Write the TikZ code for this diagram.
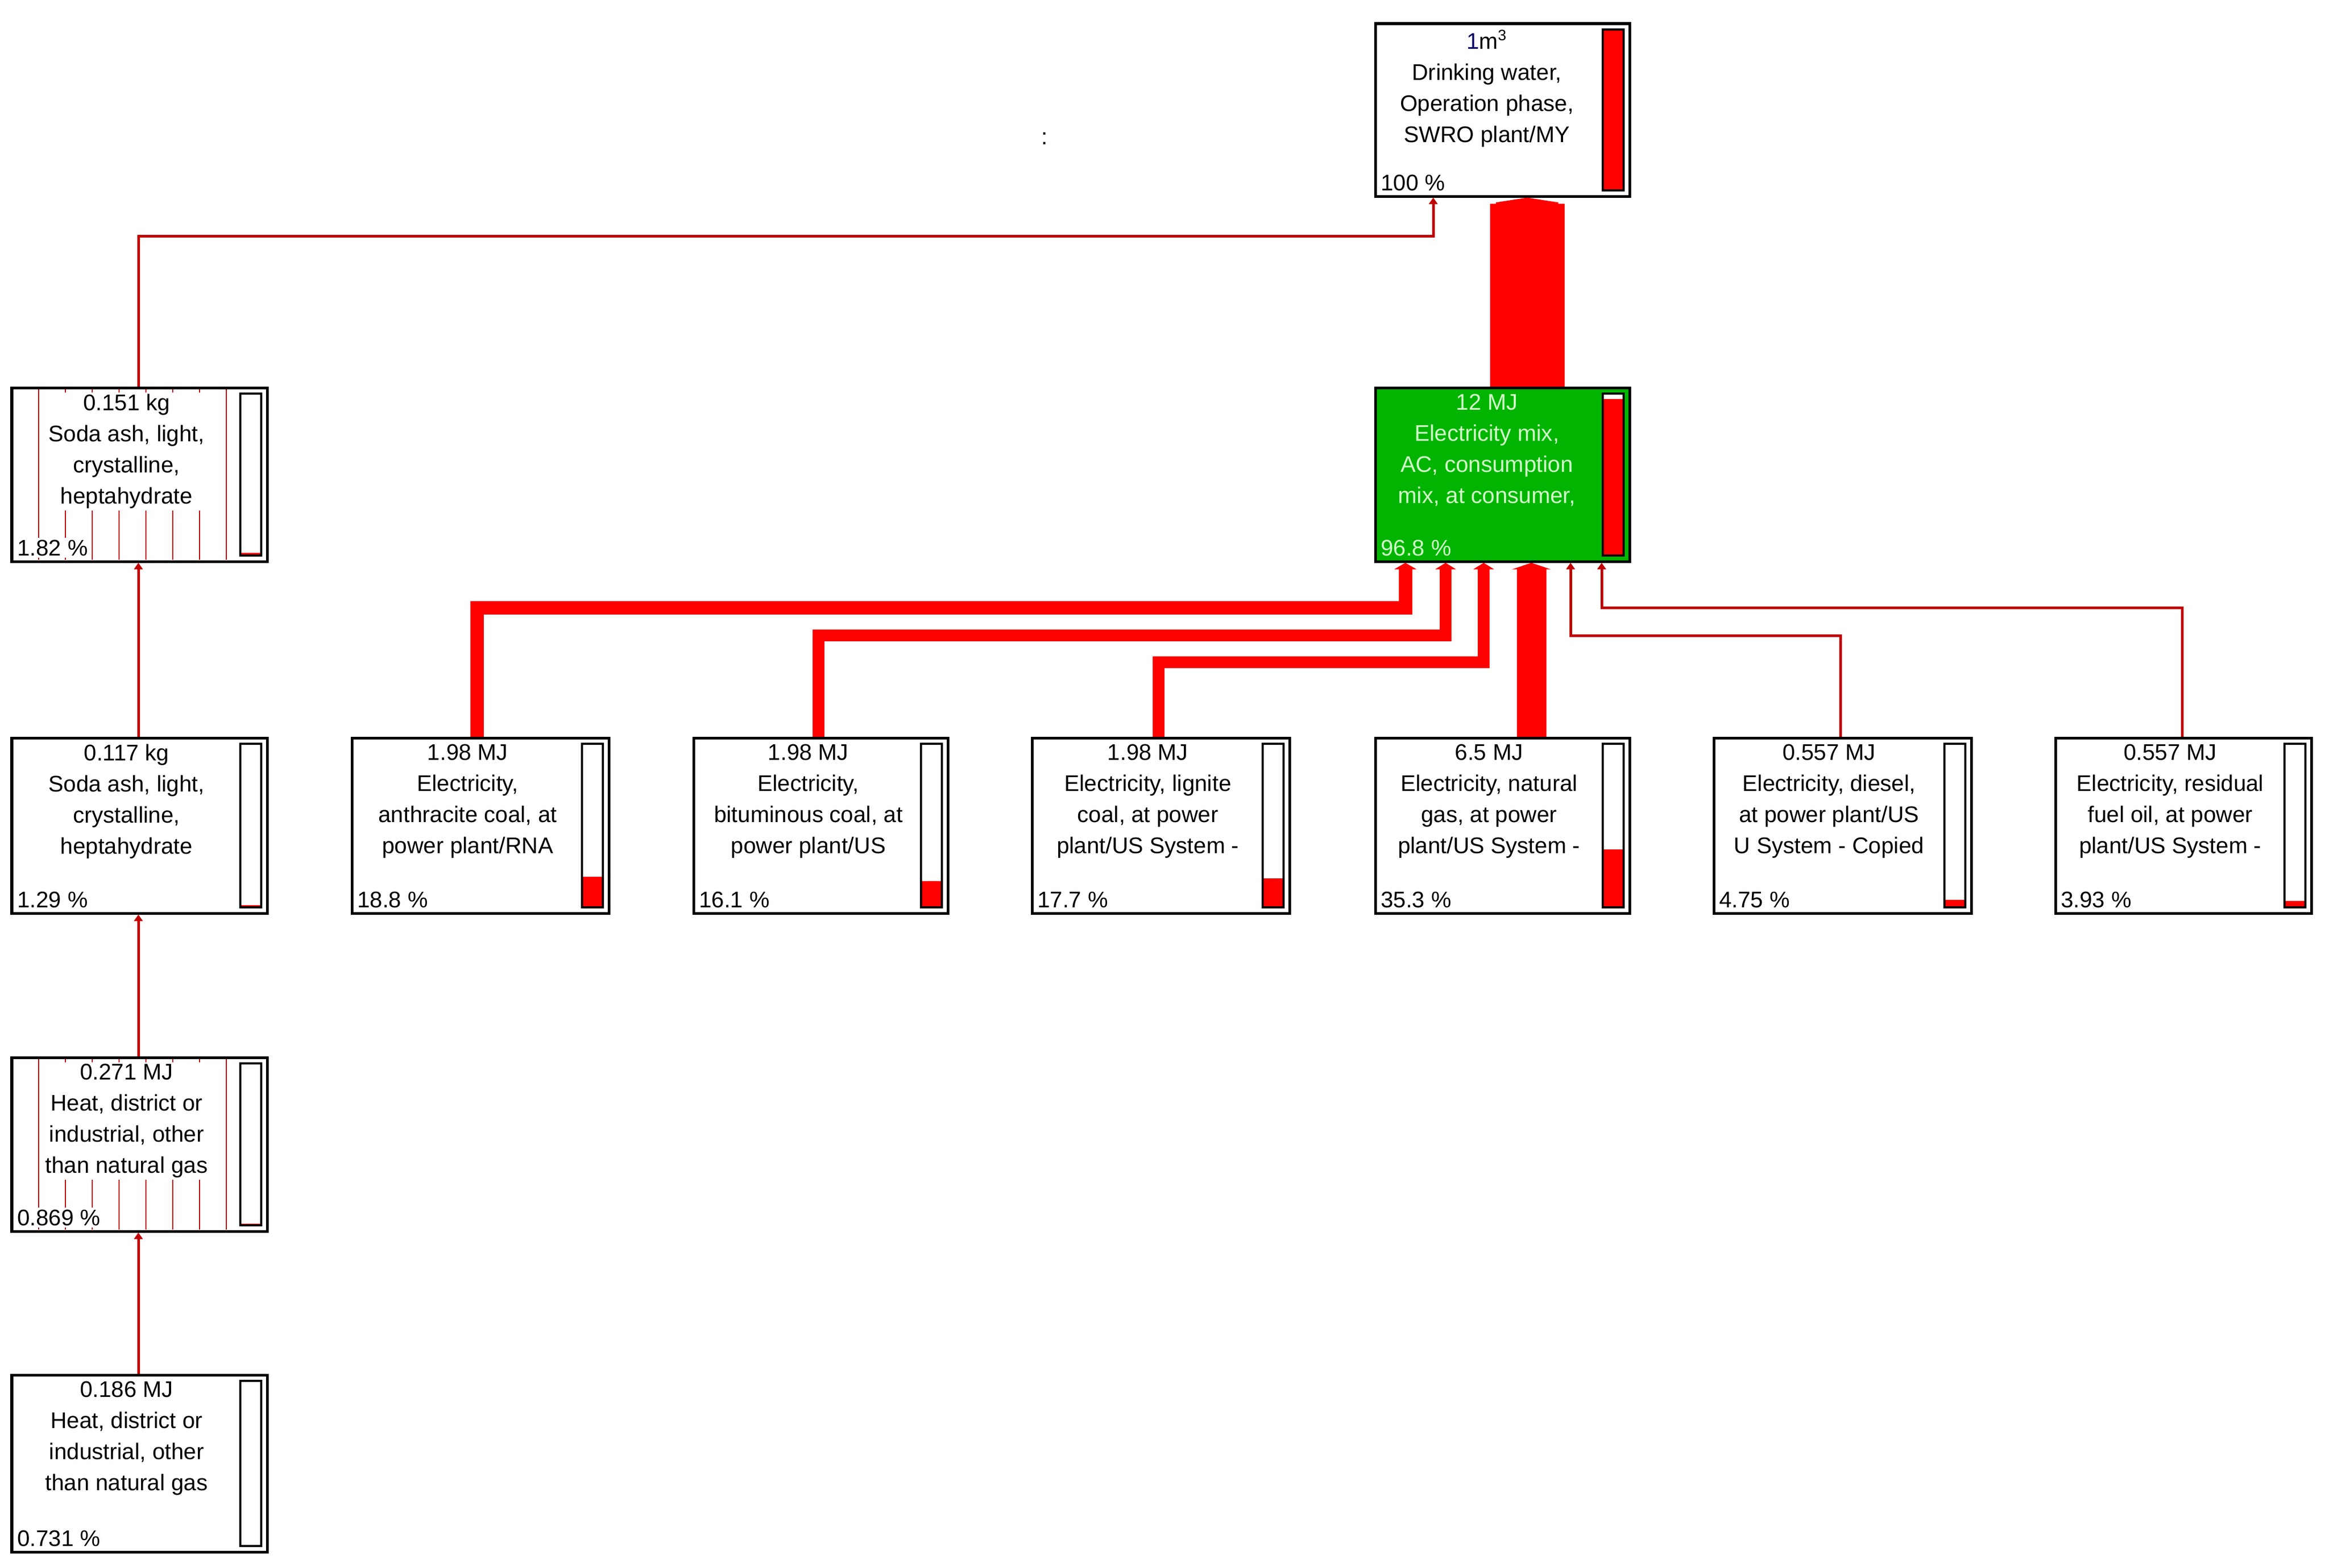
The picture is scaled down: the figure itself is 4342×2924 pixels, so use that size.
\documentclass[tikz,border=0pt]{standalone}
\usepackage{fontspec}
\setmainfont{Liberation Sans}
\usetikzlibrary{arrows.meta,fit}
\definecolor{thinred}{HTML}{C00000}
\definecolor{flowred}{HTML}{FF0000}
\definecolor{mixgreen}{HTML}{00B400}
\definecolor{lightgreen}{HTML}{D0FFC8}
\tikzset{
  box/.style={draw=black,line width=0.05cm,inner sep=0pt},
  label/.style={font=\fontsize{12}{16.5}\selectfont,align=center,inner sep=1pt},
  pct/.style={font=\fontsize{12}{14}\selectfont,inner sep=1pt},
  barframe/.style={draw=black,line width=0.035cm,fill=white},
  barfill/.style={fill=flowred},
  hatch/.style={draw=thinred,line width=0.025cm},
  thinflow/.style={draw=thinred,line width=0.05cm,-{Triangle[width=0.16cm,length=0.12cm]}},
  bigflow/.style={draw=flowred,line width=#1*0.01cm,-{Triangle[width=(#1+16)*0.01cm,length=0.12cm]},line join=miter},
}
\newcommand\pbox[8]{%
  \node[box,#6,fit={(#2,#3)(#4,#5)}] (#1) {};
  \pgfmathsetmacro\bartop{#5-11-(#5-#3-22)*(#8/100)}
  \draw[barframe] (#4-50,#3+11) rectangle (#4-11,#5-11);
  \fill[barfill] (#4-50,#5-11) rectangle (#4-11,\bartop);
  \draw[barframe,fill=none] (#4-50,#3+11) rectangle (#4-11,#5-11);
}
\begin{document}
\begin{tikzpicture}[x=0.01cm,y=-0.01cm]
\useasboundingbox[fill=white] (0,0) rectangle (4342,2924);
% boxes
\pbox{top}{2564}{44}{3038}{366}{fill=white}{}{100}
\pbox{mix}{2564}{723}{3038}{1047}{fill=mixgreen}{}{96.8}
\pbox{sodaA}{22}{723}{498}{1047}{fill=white}{}{1.82}
\pbox{sodaB}{22}{1376}{498}{1703}{fill=white}{}{1.29}
\pbox{heatA}{22}{1972}{498}{2296}{fill=white}{}{0.869}
\pbox{heatB}{22}{2564}{498}{2894}{fill=white}{}{0.731}
\pbox{anth}{656}{1376}{1135}{1703}{fill=white}{}{18.8}
\pbox{bitu}{1293}{1376}{1767}{1703}{fill=white}{}{16.1}
\pbox{lign}{1924}{1376}{2404}{1703}{fill=white}{}{17.7}
\pbox{ngas}{2564}{1376}{3038}{1703}{fill=white}{}{35.3}
\pbox{dies}{3195}{1376}{3675}{1703}{fill=white}{}{4.75}
\pbox{resi}{3832}{1376}{4309}{1703}{fill=white}{}{3.93}
% hatching
\foreach \x in {72,122,...,422}{
  \draw[hatch] (\x,726) -- (\x,1044);
  \draw[hatch] (\x,1975) -- (\x,2293);
}
% labels
\node[label,anchor=north] (topT) at (2772,52) {{\color{blue!40!black}1}m\textsuperscript{3}\\Drinking water,\\Operation phase,\\SWRO plant/MY};
\node[pct,anchor=south west] (topP) at (2570,360) {100 \%};
\node[label,anchor=north,text=lightgreen] (mixT) at (2772,731) {12 MJ\\Electricity mix,\\AC, consumption\\mix, at consumer,};
\node[pct,anchor=south west,text=lightgreen] (mixP) at (2570,1041) {96.8 \%};
\node[label,anchor=north,fill=white] (sodaAT) at (236,731) {0.151 kg\\Soda ash, light,\\crystalline,\\heptahydrate};
\node[pct,anchor=south west,fill=white] (sodaAP) at (28,1041) {1.82 \%};
\node[label,anchor=north] (sodaBT) at (236,1384) {0.117 kg\\Soda ash, light,\\crystalline,\\heptahydrate};
\node[pct,anchor=south west] (sodaBP) at (28,1697) {1.29 \%};
\node[label,anchor=north,fill=white] (heatAT) at (236,1980) {0.271 MJ\\Heat, district or\\industrial, other\\than natural gas};
\node[pct,anchor=south west,fill=white] (heatAP) at (28,2290) {0.869 \%};
\node[label,anchor=north] (heatBT) at (236,2572) {0.186 MJ\\Heat, district or\\industrial, other\\than natural gas};
\node[pct,anchor=south west] (heatBP) at (28,2888) {0.731 \%};
\node[label,anchor=north] (anthT) at (872,1384) {1.98 MJ\\Electricity,\\anthracite coal, at\\power plant/RNA};
\node[pct,anchor=south west] (anthP) at (662,1697) {18.8 \%};
\node[label,anchor=north] (bituT) at (1507,1384) {1.98 MJ\\Electricity,\\bituminous coal, at\\power plant/US};
\node[pct,anchor=south west] (bituP) at (1299,1697) {16.1 \%};
\node[label,anchor=north] (lignT) at (2140,1384) {1.98 MJ\\Electricity, lignite\\coal, at power\\plant/US System -};
\node[pct,anchor=south west] (lignP) at (1930,1697) {17.7 \%};
\node[label,anchor=north] (ngasT) at (2776,1384) {6.5 MJ\\Electricity, natural\\gas, at power\\plant/US System -};
\node[pct,anchor=south west] (ngasP) at (2570,1697) {35.3 \%};
\node[label,anchor=north] (diesT) at (3410,1384) {0.557 MJ\\Electricity, diesel,\\at power plant/US\\U System - Copied};
\node[pct,anchor=south west] (diesP) at (3201,1697) {4.75 \%};
\node[label,anchor=north] (resiT) at (4046,1384) {0.557 MJ\\Electricity, residual\\fuel oil, at power\\plant/US System -};
\node[pct,anchor=south west] (resiP) at (3838,1697) {3.93 \%};
\node[pct] (colon) at (1947,258) {:};
% connectors
\draw[bigflow=139] (mix.north -| 2847,0) -- (top.south -| 2847,0);
\draw[thinflow] (sodaA.north -| 258,0) |- (960,440) -- (2672,440) -- (top.south -| 2672,0);
\draw[thinflow] (sodaB.north -| 258,0) -- (sodaA.south -| 258,0);
\draw[thinflow] (heatA.north -| 258,0) -- (sodaB.south -| 258,0);
\draw[thinflow] (heatB.north -| 258,0) -- (heatA.south -| 258,0);
\draw[bigflow=25] (anth.north -| 889,0) |- (2620,1133) -- (mix.south -| 2620,0);
\draw[bigflow=22] (bitu.north -| 1526,0) |- (2695,1185) -- (mix.south -| 2695,0);
\draw[bigflow=22] (lign.north -| 2160,0) |- (2766,1235) -- (mix.south -| 2766,0);
\draw[bigflow=55] (ngas.north -| 2855,0) -- (mix.south -| 2855,0);
\draw[thinflow] (dies.north -| 3431,0) |- (2928,1185) -- (mix.south -| 2928,0);
\draw[thinflow] (resi.north -| 4068,0) |- (2986,1133) -- (mix.south -| 2986,0);
\end{tikzpicture}
\end{document}
